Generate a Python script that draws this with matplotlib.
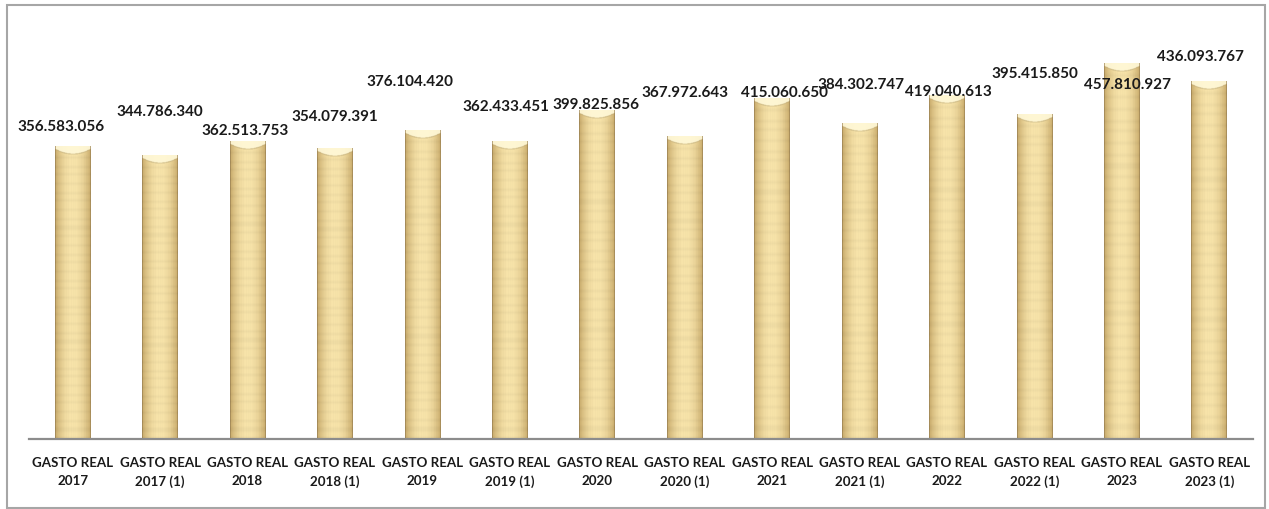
import numpy as np
import matplotlib
matplotlib.use("Agg")
import matplotlib.pyplot as plt
from matplotlib.patches import Rectangle

categories = ["GASTO REAL\n2017", "GASTO REAL\n2017 (1)", "GASTO REAL\n2018", "GASTO REAL\n2018 (1)",
              "GASTO REAL\n2019", "GASTO REAL\n2019 (1)", "GASTO REAL\n2020", "GASTO REAL\n2020 (1)",
              "GASTO REAL\n2021", "GASTO REAL\n2021 (1)", "GASTO REAL\n2022", "GASTO REAL\n2022 (1)",
              "GASTO REAL\n2023", "GASTO REAL\n2023 (1)"]
values = [356583056, 344786340, 362513753, 354079391, 376104420, 362433451, 399825856,
          367972643, 415060650, 384302747, 419040613, 395415850, 457810927, 436093767]
value_labels = ["356.583.056", "344.786.340", "362.513.753", "354.079.391", "376.104.420",
                "362.433.451", "399.825.856", "367.972.643", "415.060.650", "384.302.747",
                "419.040.613", "395.415.850", "457.810.927", "436.093.767"]
# label placement (layout only): y in data units, x shift in pixels
label_y = [380.5e6, 398.8e6, 375.6e6, 392.7e6, 435.4e6, 404.9e6, 407.3e6,
           422.0e6, 422.0e6, 431.7e6, 423.2e6, 445.1e6, 431.7e6, 465.9e6]
label_dx = [-12, 0, -2, 0, -12, -4, -1, 0, 12, 1, 1, 0, 6, -9]

FONT = ["Lato", "DejaVu Sans"]

W, H = 1269, 509
fig = plt.figure(figsize=(W / 100, H / 100), dpi=100)
fig.patch.set_facecolor("white")

# outer frame
fig.patches.append(Rectangle((7 / W, 1 / H), 1258 / W, (H - 6) / H, transform=fig.transFigure,
                             fill=False, edgecolor="#a6a6a6", linewidth=1.5))

ax = fig.add_axes([29 / W, (H - 439) / H, 1224 / W, 410 / H])
ax.set_xlim(-0.5, len(values) - 0.5)
ax.set_ylim(0, 500e6)
for s in ["left", "right", "top"]:
    ax.spines[s].set_visible(False)
ax.spines["bottom"].set_color("#8c8c8c")
ax.spines["bottom"].set_linewidth(1.6)
ax.set_yticks([])
ax.set_xticks(range(len(categories)))
ax.set_xticklabels(categories, fontsize=9.6, fontweight="bold", family=FONT, color="#1a1a1a",
                   linespacing=1.55)
ax.tick_params(axis="x", length=0, pad=13)

bw = 0.41
# horizontal cylinder shading profile
n = 60
t = np.linspace(-1, 1, n)
shade = np.clip(1 - np.abs(t) ** 2.2, 0, 1)
edge = np.array([200, 170, 106]) / 255
center = np.array([248, 228, 170]) / 255
prof = edge[None, :] * (1 - shade[:, None]) + center[None, :] * shade[:, None]
prof[0] = prof[-1] = np.array([150, 125, 80]) / 255
# subtle deterministic texture
rows = 120
tex = 1 - 0.03 * (np.sin(np.arange(rows) * 1.7)[:, None] > 0.6) - 0.025 * (np.cos(np.arange(n) * 2.3)[None, :] > 0.7)
body = prof[None, :, :] * tex[:, :, None]
body = np.clip(body, 0, 1)

# cap (bevel) image
cap_rows = 20
cap = np.zeros((cap_rows, n, 3))
light = np.array([255, 248, 215]) / 255
for r in range(cap_rows):
    fr = r / (cap_rows - 1)  # 0 top -> 1 bottom
    for c in range(n):
        depth = 0.35 + 0.65 * (1 - t[c] ** 2)  # curved lower edge
        if fr < depth * 0.85:
            cap[r, c] = light * 0.92 + prof[c] * 0.08
        elif fr < depth:
            cap[r, c] = prof[c] * 0.88
        else:
            cap[r, c] = prof[c]
cap[:, 0] = cap[:, -1] = np.array([150, 125, 80]) / 255
cap_h = 10e6

for i, v in enumerate(values):
    x0, x1 = i - bw / 2, i + bw / 2
    ax.imshow(body, extent=[x0, x1, 0, v - cap_h], aspect="auto", interpolation="bilinear", zorder=2)
    ax.imshow(cap, extent=[x0, x1, v - cap_h, v], aspect="auto", interpolation="bilinear", zorder=2)
    ax.annotate(value_labels[i], xy=(i, label_y[i]), xytext=(label_dx[i] * 0.72, 0),
                textcoords="offset points", ha="center", va="center",
                fontsize=11, fontweight="bold", family=FONT, color="#1a1a1a", zorder=5,
                annotation_clip=False)

ax.set_xlim(-0.5, len(values) - 0.5)
ax.set_ylim(0, 500e6)
fig.savefig("out.png", dpi=100, facecolor="white")
